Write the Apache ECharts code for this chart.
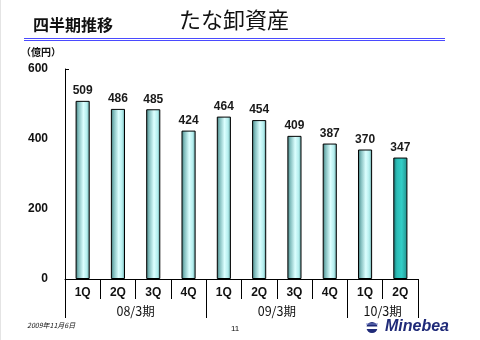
<!DOCTYPE html>
<html>
<head>
<meta charset="utf-8">
<script src="https://cdn.jsdelivr.net/npm/echarts@6/dist/echarts.min.js"></script>
<style>
  html, body { margin: 0; padding: 0; background: #fff; }
  #chart { width: 480px; height: 340px; }
</style>
</head>
<body>
<div id="chart"></div>
<script>
// Quarterly inventory balance (units: 100 million yen)
const quarters = ['1Q', '2Q', '3Q', '4Q', '1Q', '2Q', '3Q', '4Q', '1Q', '2Q'];
const inventory = [509, 486, 485, 424, 464, 454, 409, 387, 370, 347];
const fiscalYears = ['08/3期', '09/3期', '10/3期'];
const fiscalYearSpans = [4, 4, 2];          // quarters per fiscal year
const yTicks = [0, 200, 400, 600];

const JP = '"Noto Sans CJK JP", "Liberation Sans", sans-serif';
const NUM = '"Liberation Sans", Arial, sans-serif';

// Boundaries and midpoints of the fiscal-year groups in quarter units
const groupEdges = [0];
fiscalYearSpans.forEach(s => groupEdges.push(groupEdges[groupEdges.length - 1] + s));
const groupMids = fiscalYears.map((_, i) => (groupEdges[i] + groupEdges[i + 1]) / 2);

const cylinder = {
  type: 'linear', x: 0, y: 0, x2: 1, y2: 0,
  colorStops: [
    { offset: 0, color: '#3d7474' },
    { offset: 0.2, color: '#7fbcbc' },
    { offset: 0.55, color: '#dcffff' },
    { offset: 0.8, color: '#b4eeee' },
    { offset: 1, color: '#5c9a9a' }
  ]
};
const cylinderDark = {
  type: 'linear', x: 0, y: 0, x2: 1, y2: 0,
  colorStops: [
    { offset: 0, color: '#1b6e6c' },
    { offset: 0.25, color: '#2cbcb6' },
    { offset: 0.6, color: '#33cdc6' },
    { offset: 1, color: '#23908c' }
  ]
};

const chart = echarts.init(document.getElementById('chart'));

chart.setOption({
  backgroundColor: '#ffffff',
  animation: false,
  grid: { left: 65, right: 62, top: 69, bottom: 61, containLabel: false },
  xAxis: [
    {
      type: 'category',
      data: quarters,
      position: 'bottom',
      axisLine: { show: true, lineStyle: { color: '#000', width: 1 } },
      axisTick: { show: true, length: 20, lineStyle: { color: '#000', width: 1 } },
      axisLabel: { color: '#111', fontFamily: NUM, fontWeight: 'bold', fontSize: 12, margin: 8 }
    },
    {
      type: 'value',
      min: 0,
      max: quarters.length,
      position: 'bottom',
      axisLine: { show: false, lineStyle: { opacity: 0 } },
      splitLine: { show: false },
      minorTick: { show: false },
      axisTick: {
        show: true, length: 39, customValues: groupEdges,
        lineStyle: { color: '#000', width: 1 }
      },
      axisLabel: {
        show: true, customValues: groupMids, margin: 26,
        color: '#111', fontFamily: JP, fontSize: 12.5,
        formatter: v => fiscalYears[groupMids.indexOf(v)] || ''
      }
    }
  ],
  yAxis: {
    type: 'value',
    min: 0,
    max: 600,
    interval: 200,
    axisLine: { show: true, lineStyle: { color: '#000', width: 1 } },
    axisTick: { show: true, inside: true, length: 4, customValues: [600], lineStyle: { color: '#000' } },
    splitLine: { show: false },
    axisLabel: {
      customValues: yTicks,
      color: '#111', fontFamily: NUM, fontWeight: 'bold', fontSize: 12, margin: 17
    }
  },
  series: [{
    type: 'bar',
    xAxisIndex: 0,
    barWidth: '40%',
    data: inventory.map((v, i) => ({
      value: v,
      itemStyle: {
        color: i === inventory.length - 1 ? cylinderDark : cylinder,
        borderColor: '#000',
        borderWidth: 1
      }
    })),
    label: {
      show: true,
      position: 'top',
      distance: 4,
      color: '#1a1a1a',
      fontFamily: NUM,
      fontWeight: 'bold',
      fontSize: 12
    }
  }],
  graphic: [
    { type: 'rect', shape: { x: 0, y: 0, width: 1, height: 340 }, style: { fill: '#e4e4e4' } },
    {
      type: 'text', left: 33, top: 17,
      style: { text: '四半期推移', font: 'bold 16px ' + JP, fill: '#111' }
    },
    {
      type: 'text', left: 179, top: 9,
      style: { text: 'たな卸資産', font: '22px ' + JP, fill: '#111' }
    },
    { type: 'rect', shape: { x: 24, y: 38, width: 421, height: 1 }, style: { fill: '#4a4aff' } },
    { type: 'rect', shape: { x: 24, y: 40, width: 421, height: 1 }, style: { fill: '#4a4aff' } },
    {
      type: 'text', left: 21, top: 47,
      style: { text: '（億円）', font: 'bold 10px ' + JP, fill: '#111' }
    },
    {
      type: 'text', left: 27, top: 322,
      style: { text: '2009年11月6日', font: 'italic 7px ' + JP, fill: '#111' }
    },
    {
      type: 'text', left: 231, top: 325,
      style: { text: '11', font: '8px ' + NUM, fill: '#111' }
    },
    // Minebea logo: globe badge and wordmark
    { type: 'circle', shape: { cx: 372, cy: 327.5, r: 5.5 }, style: { fill: '#1f2a78' } },
    { type: 'rect', shape: { x: 366, y: 326.5, width: 12, height: 2.5 }, style: { fill: '#ffffff' } },
    { type: 'rect', shape: { x: 366, y: 323.5, width: 12, height: 1 }, style: { fill: '#7b86c8' } },
    {
      type: 'text', left: 385, top: 319,
      style: { text: 'Minebea', font: 'italic bold 16px ' + NUM, fill: '#1f2a78' }
    }
  ]
});
</script>
</body>
</html>
